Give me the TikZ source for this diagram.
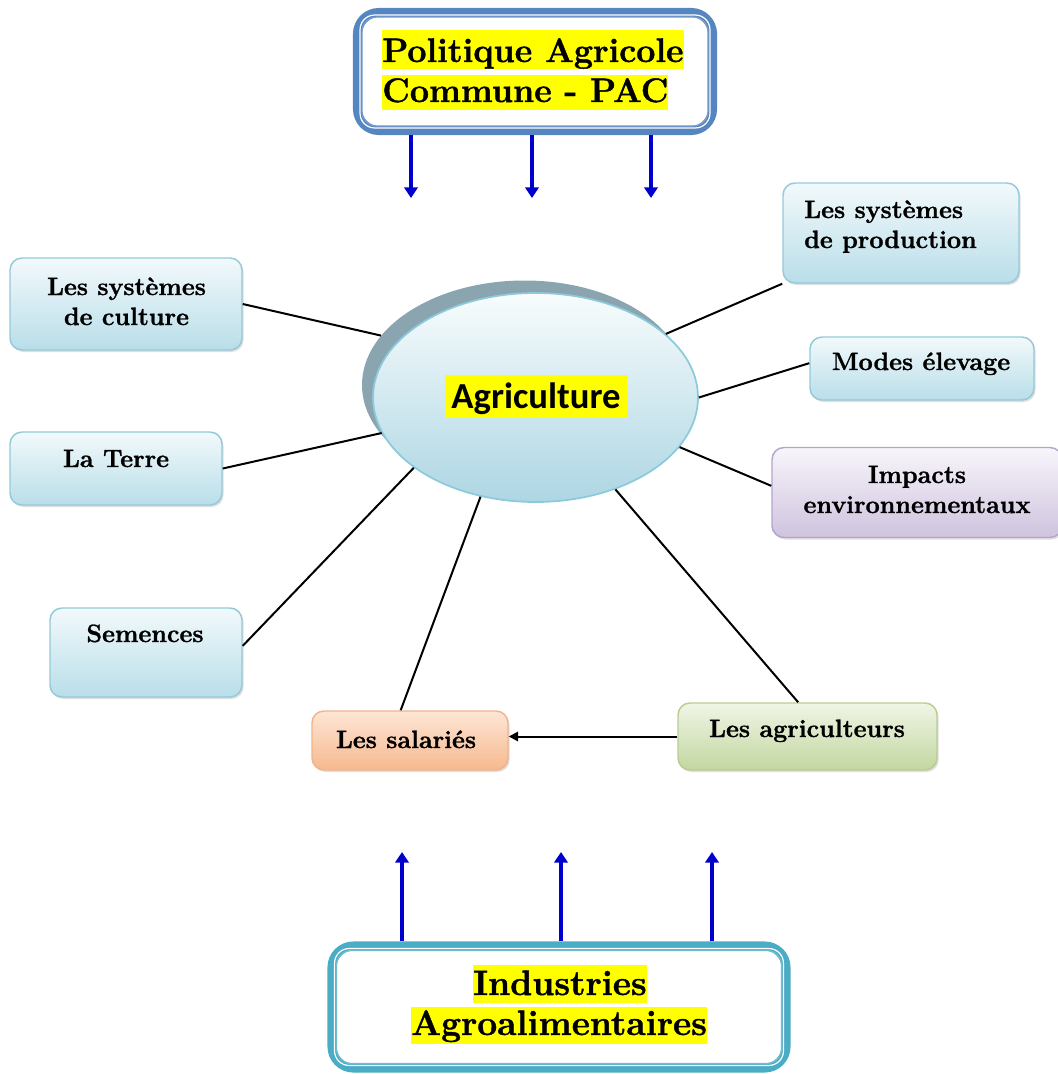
\documentclass[tikz,border=0pt]{standalone}
\usepackage{fontspec}
\setmainfont{Latin Modern Roman}[BoldFeatures={FakeBold=1.2}]
\newfontfamily\calib{Carlito}
\usetikzlibrary{shapes.geometric,arrows.meta,shadows}
\newcommand\pxu{*0.75pt}
\definecolor{hly}{HTML}{FFFF00}
\definecolor{pacb}{HTML}{5686BF}
\definecolor{indb}{HTML}{4BACC6}
\definecolor{arrb}{HTML}{0000CC}
\definecolor{bxb}{HTML}{93CAD8}
\definecolor{bxt}{HTML}{F2F9FB}
\definecolor{bxbot}{HTML}{B9DEE9}
\definecolor{pub}{HTML}{B4A6CA}
\definecolor{put}{HTML}{F8F5FB}
\definecolor{pubot}{HTML}{CFC3DE}
\definecolor{orb}{HTML}{F2B38A}
\definecolor{ort}{HTML}{FDE6D6}
\definecolor{orbot}{HTML}{F6B98E}
\definecolor{grb}{HTML}{B8CC94}
\definecolor{grt}{HTML}{F0F5E6}
\definecolor{grbot}{HTML}{C3D7A0}
\definecolor{elb}{HTML}{8CCADB}
\definecolor{elt}{HTML}{F8FCFD}
\definecolor{elbot}{HTML}{ADD6E3}
\definecolor{shc}{HTML}{8AA5B0}
\begin{document}
\begin{tikzpicture}[x=0.75pt,y=-0.75pt,
  basebox/.style={rounded corners=9pt, line width=1.1pt, inner sep=0pt,
    drop shadow={shadow xshift=1.2pt,shadow yshift=-1.5pt,opacity=0.25}},
  bluebox/.style={basebox, draw=bxb, top color=bxt, bottom color=bxbot},
  purplebox/.style={basebox, draw=pub, top color=put, bottom color=pubot},
  orangebox/.style={basebox, draw=orb, top color=ort, bottom color=orbot},
  greenbox/.style={basebox, draw=grb, top color=grt, bottom color=grbot},
  lbl/.style={font=\bfseries\fontsize{18.8}{22.5}\selectfont, inner sep=0pt},
  biglbl/.style={font=\bfseries\fontsize{25.5}{30}\selectfont, inner sep=0pt},
  conn/.style={draw=black, line width=1.5pt},
  bluearrow/.style={draw=arrb, line width=3pt, -{Triangle[width=10pt,length=8pt]}},
  frame/.style={draw=#1, line width=6.8pt, rounded corners=16pt, fill=white, inner sep=0pt},
  thinframe/.style={draw=#1, line width=0.9pt, rounded corners=11pt}
]
\useasboundingbox (0,0) rectangle (1057,1074);

% ---------- PAC box ----------
\node[frame=pacb, minimum width=355\pxu, minimum height=118\pxu] (pac) at (535,71.5) {};
\draw[thinframe=white] ([shift={(5.3pt,-5.3pt)}]pac.north west) rectangle ([shift={(-5.3pt,5.3pt)}]pac.south east);
\draw[thinframe=pacb!80] ([shift={(6.8pt,-6.8pt)}]pac.north west) rectangle ([shift={(-6.8pt,6.8pt)}]pac.south east);
\node[biglbl, anchor=base west] (pac1) at (382,62)
  {\setlength{\fboxsep}{0pt}\colorbox{hly}{\rule[-4.5pt]{0pt}{28.5pt}Politique Agricole}};
\node[biglbl, anchor=base west] (pac2) at (382,102)
  {\setlength{\fboxsep}{0pt}\colorbox{hly}{\rule[-6pt]{0pt}{26.5pt}Commune - PAC}};

\coordinate (pa1) at (411,198);
\coordinate (pa2) at (532,198);
\coordinate (pa3) at (651,198);
\draw[bluearrow] (pac.south -| pa1) -- (pa1);
\draw[bluearrow] (pac.south -| pa2) -- (pa2);
\draw[bluearrow] (pac.south -| pa3) -- (pa3);

% ---------- Industries box ----------
\node[frame=indb, minimum width=454\pxu, minimum height=122\pxu] (ind) at (559,1007) {};
\draw[thinframe=white] ([shift={(5.3pt,-5.3pt)}]ind.north west) rectangle ([shift={(-5.3pt,5.3pt)}]ind.south east);
\draw[thinframe=indb!80] ([shift={(6.8pt,-6.8pt)}]ind.north west) rectangle ([shift={(-6.8pt,6.8pt)}]ind.south east);
\node[biglbl, anchor=base, font=\bfseries\fontsize{26.5}{30}\selectfont] (ind1) at (560,995)
  {\setlength{\fboxsep}{0pt}\colorbox{hly}{\rule[-6pt]{0pt}{28.5pt}Industries}};
\node[biglbl, anchor=base, font=\bfseries\fontsize{26.5}{30}\selectfont] (ind2) at (559,1035)
  {\setlength{\fboxsep}{0pt}\colorbox{hly}{\rule[-7pt]{0pt}{28pt}Agroalimentaires}};

\coordinate (ia1) at (402,852);
\coordinate (ia2) at (561,852);
\coordinate (ia3) at (712,852);
\draw[bluearrow] (ind.north -| ia1) -- (ia1);
\draw[bluearrow] (ind.north -| ia2) -- (ia2);
\draw[bluearrow] (ind.north -| ia3) -- (ia3);

% ---------- central ellipse ----------
\node[ellipse, fill=shc, minimum width=325\pxu, minimum height=209\pxu, inner sep=0pt] (agrish) at (524.5,385) {};
\node[ellipse, draw=elb, line width=1.3pt, top color=elt, bottom color=elbot,
  minimum width=325\pxu, minimum height=209\pxu, inner sep=0pt] (agri) at (535.5,397.5) {};
\node[inner sep=0pt, anchor=base] (agritxt) at (536,408)
  {\calib\bfseries\fontsize{27.5}{32}\selectfont\setlength{\fboxsep}{0pt}\colorbox{hly}{\rule[-7.5pt]{0pt}{32pt}\,Agriculture\,}};

% ---------- left boxes ----------
\node[bluebox, minimum width=232\pxu, minimum height=92\pxu] (cult) at (126,304) {};
\node[lbl, anchor=base] (cult1) at (126.5,295) {Les systèmes};
\node[lbl, anchor=base] (cult2) at (126.5,325) {de culture};

\node[bluebox, minimum width=212\pxu, minimum height=73\pxu] (terre) at (116,468.5) {};
\node[lbl, anchor=base] (terre1) at (116,467) {La Terre};

\node[bluebox, minimum width=192\pxu, minimum height=89\pxu] (sem) at (146,652.5) {};
\node[lbl, anchor=base] (sem1) at (145,642) {Semences};

% ---------- right boxes ----------
\node[bluebox, minimum width=236\pxu, minimum height=100\pxu] (prod) at (901,233) {};
\node[lbl, anchor=base west] (prod1) at (804,218) {Les systèmes};
\node[lbl, anchor=base west] (prod2) at (804,248) {de production};

\node[bluebox, minimum width=224\pxu, minimum height=63\pxu] (modes) at (922,368.5) {};
\node[lbl, anchor=base] (modes1) at (921,370) {Modes élevage};

\node[purplebox, minimum width=290\pxu, minimum height=90\pxu] (imp) at (917,492.5) {};
\node[lbl, anchor=base] (imp1) at (917,483) {Impacts};
\node[lbl, anchor=base] (imp2) at (917,513) {environnementaux};

% ---------- bottom boxes ----------
\node[orangebox, minimum width=196\pxu, minimum height=59\pxu] (sal) at (410,740.5) {};
\node[lbl, anchor=base] (sal1) at (406,748) {Les salariés};

\node[greenbox, minimum width=259\pxu, minimum height=67\pxu] (agric) at (807.5,736.5) {};
\node[lbl, anchor=base] (agric1) at (807,737) {Les agriculteurs};

% ---------- connectors ----------
\draw[conn] (cult.east) -- (agrish.161);
\draw[conn] (terre.east) -- (agri.193);
\draw[conn] ([yshift=5pt]sem.east) -- (agri.210);
\draw[conn] ([xshift=-7pt]sal.north) -- (agri.241);
\draw[conn] ([xshift=-7pt]agric.north) -- (agri.311);
\draw[conn] ([yshift=5pt]imp.west) -- (agri.341);
\draw[conn] ([yshift=4pt]modes.west) -- (agri.0);
\draw[conn] (prod.south west) -- (agri.26);
\draw[conn, -{Triangle[width=7pt,length=7pt]}] (agric.west) -- (agric.west -| sal.east);
\end{tikzpicture}
\end{document}
